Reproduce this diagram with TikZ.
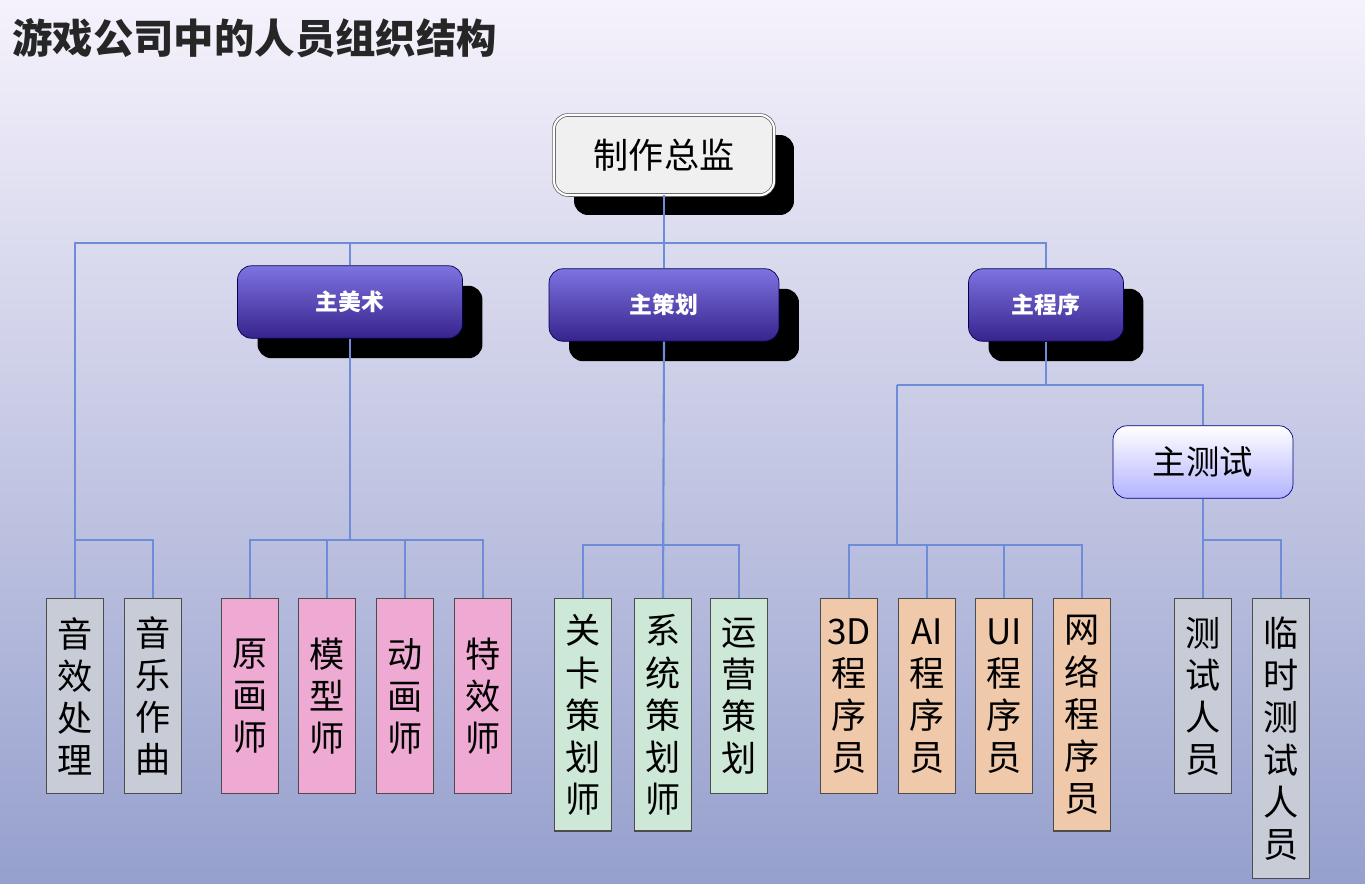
\documentclass[tikz,border=0pt]{standalone}
\usepackage{fontspec}
\newfontfamily\cjk{Noto Sans CJK SC}
\usetikzlibrary{shadows}
\definecolor{linec}{RGB}{110,140,215}
\definecolor{graybox}{RGB}{200,204,214}
\definecolor{pinkbox}{RGB}{238,170,210}
\definecolor{greenbox}{RGB}{205,232,215}
\definecolor{orangebox}{RGB}{240,200,170}
\definecolor{bgtop}{RGB}{246,242,252}
\definecolor{bgbot}{RGB}{150,160,205}
\definecolor{leadtop}{RGB}{125,115,225}
\definecolor{leadbot}{RGB}{55,35,140}
\begin{document}
\begin{tikzpicture}[x=0.02cm,y=-0.02cm]
\tikzstyle{every node}=[font=\cjk]
\tikzstyle{boss}=[draw=gray!70!black,double=white,double distance=1.2pt,rounded corners=8pt,
  fill=gray!12,minimum width=4.4cm,minimum height=1.6cm,font=\cjk\fontsize{20}{24}\selectfont,
  drop shadow={shadow xshift=0.4cm,shadow yshift=-0.4cm,fill=black,opacity=1}]
\tikzstyle{lead}=[draw=blue!30!black,rounded corners=8pt,top color=leadtop,bottom color=leadbot,
  text=white,minimum height=1.45cm,font=\cjk\bfseries\fontsize{13}{16}\selectfont,
  drop shadow={shadow xshift=0.4cm,shadow yshift=-0.4cm,fill=black,opacity=1}]
\tikzstyle{test}=[draw=blue!50!black,rounded corners=8pt,top color=white,bottom color=blue!30,
  minimum width=3.6cm,minimum height=1.45cm,font=\cjk\fontsize{19}{22}\selectfont]
\tikzstyle{leaf}=[draw=gray!60!black,thick,anchor=north,minimum width=1.15cm,inner sep=2pt,
  align=center,font=\cjk\fontsize{20}{24}\selectfont]
\tikzstyle{link}=[draw=linec,line width=1.2pt]
% background and title
\shade[top color=bgtop,bottom color=bgbot] (0,0) rectangle (1365,883);
\node[anchor=west,font=\cjk\bfseries\fontsize{23}{26}\selectfont,text=gray!30!black] (title) at (6,38) {游戏公司中的人员组织结构};
% heads
\node[boss] (zj) at (664,155) {制作总监};
\node[lead,minimum width=4.5cm] (ms) at (350,302) {主美术};
\node[lead,minimum width=4.6cm] (mc) at (664,305) {主策划};
\node[lead,minimum width=3.1cm] (mp) at (1046,305) {主程序};
\node[test] (mt) at (1203,462) {主测试};
% leaves
\node[leaf,fill=graybox,minimum height=3.9cm] (yx) at (75,598) {音\\效\\处\\理};
\node[leaf,fill=graybox,minimum height=3.9cm] (yy) at (153,598) {音\\乐\\作\\曲};
\node[leaf,fill=pinkbox,minimum height=3.9cm] (yh) at (250,598) {原\\画\\师};
\node[leaf,fill=pinkbox,minimum height=3.9cm] (mx) at (327,598) {模\\型\\师};
\node[leaf,fill=pinkbox,minimum height=3.9cm] (dh) at (405,598) {动\\画\\师};
\node[leaf,fill=pinkbox,minimum height=3.9cm] (tx) at (483,598) {特\\效\\师};
\node[leaf,fill=greenbox,minimum height=4.65cm] (gk) at (583,598) {关\\卡\\策\\划\\师};
\node[leaf,fill=greenbox,minimum height=4.65cm] (xt) at (663,598) {系\\统\\策\\划\\师};
\node[leaf,fill=greenbox,minimum height=3.9cm] (yy2) at (739,598) {运\\营\\策\\划};
\node[leaf,fill=orangebox,minimum height=3.9cm] (p3) at (849,598) {3D\\程\\序\\员};
\node[leaf,fill=orangebox,minimum height=3.9cm] (pa) at (927,598) {AI\\程\\序\\员};
\node[leaf,fill=orangebox,minimum height=3.9cm] (pu) at (1004,598) {UI\\程\\序\\员};
\node[leaf,fill=orangebox,minimum height=4.65cm] (pw) at (1082,598) {网\\络\\程\\序\\员};
\node[leaf,fill=graybox,minimum height=3.9cm] (cs) at (1203,598) {测\\试\\人\\员};
\node[leaf,fill=graybox,minimum height=5.6cm] (ls) at (1281,598) {临\\时\\测\\试\\人\\员};
% connectors
\coordinate (bar) at (0,243);
\coordinate (b1) at (0,540);
\coordinate (b2) at (0,545);
\coordinate (b3) at (0,385);
\draw[link] (zj.south) -- (zj.south |- bar);
\draw[link] (yx.north) -- (yx.north |- bar) -| (mp.north);
\draw[link] (ms.north) -- (ms.north |- bar);
\draw[link] (mc.north) -- (mc.north |- bar);
\draw[link] (yx.north |- b1) -| (yy.north);
\draw[link] (ms.south) -- (ms.south |- b1);
\draw[link] (yh.north) |- (tx.north |- b1) -- (tx.north);
\draw[link] (mx.north) -- (mx.north |- b1);
\draw[link] (dh.north) -- (dh.north |- b1);
\draw[link] (mc.south) -- (xt.north);
\draw[link] (gk.north) |- (yy2.north |- b2) -- (yy2.north);
\draw[link] (mp.south) -- (mp.south |- b3);
\draw[link] (p3.north |- b3) ++(48,0) coordinate (pl) -- (mt.north |- b3) -- (mt.north);
\draw[link] (pl) -- (pl |- b2);
\draw[link] (p3.north) |- (pw.north |- b2) -- (pw.north);
\draw[link] (pa.north) -- (pa.north |- b2);
\draw[link] (pu.north) -- (pu.north |- b2);
\draw[link] (mt.south) -- (cs.north);
\draw[link] (cs.north |- b1) -| (ls.north);
\end{tikzpicture}
\end{document}
